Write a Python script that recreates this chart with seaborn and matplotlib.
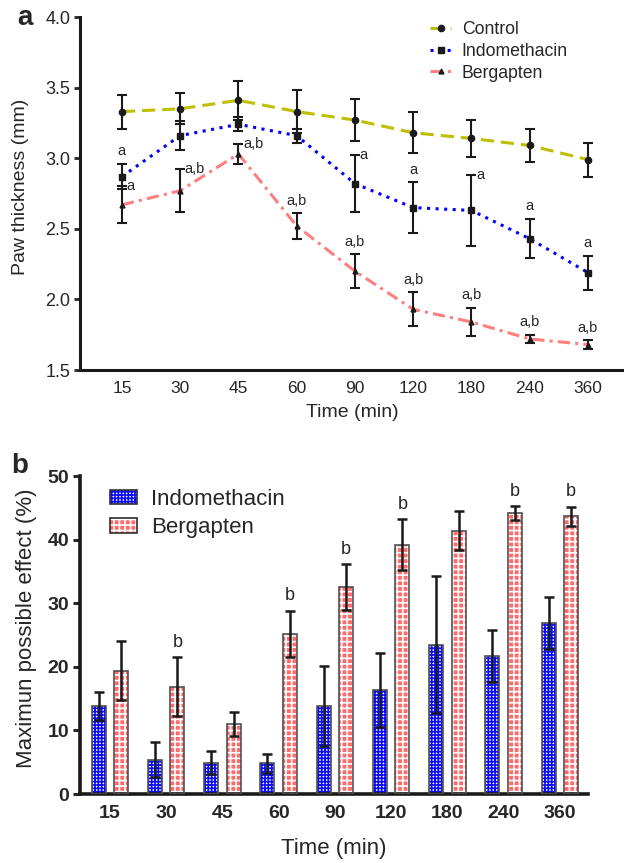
import numpy as np
import pandas as pd
import matplotlib.pyplot as plt
import seaborn as sns
from matplotlib.lines import Line2D
from matplotlib.patches import Patch, Rectangle

sns.set_theme(style='ticks')
plt.rcParams['font.family'] = ['Liberation Sans', 'DejaVu Sans']
plt.rcParams['hatch.linewidth'] = 1.2

# dados
times = ['15', '30', '45', '60', '90', '120', '180', '240', '360']

# painel a - espessura da pata (mm)
control = [3.33, 3.35, 3.41, 3.33, 3.27, 3.18, 3.14, 3.09, 2.99]
control_err = [0.12, 0.11, 0.14, 0.15, 0.15, 0.145, 0.13, 0.12, 0.12]
indo = [2.87, 3.16, 3.24, 3.16, 2.82, 2.65, 2.63, 2.43, 2.19]
indo_err = [0.09, 0.10, 0.05, 0.05, 0.20, 0.18, 0.25, 0.14, 0.12]
berg = [2.67, 2.77, 3.03, 2.52, 2.20, 1.93, 1.84, 1.72, 1.68]
berg_err = [0.13, 0.15, 0.07, 0.09, 0.12, 0.12, 0.10, 0.03, 0.03]
indo_sig = ['a', '', '', '', 'a', 'a', 'a', 'a', 'a']
berg_sig = ['a', 'a,b', 'a,b', 'a,b', 'a,b', 'a,b', 'a,b', 'a,b', 'a,b']
indo_side = ['top', '', '', '', 'right', 'top', 'right', 'top', 'top']
berg_side = ['right', 'right', 'right', 'top', 'top', 'top', 'top', 'top', 'top']

# painel b - efeito maximo possivel (%)
mpe_indo = [13.8, 5.4, 4.9, 4.8, 13.8, 16.4, 23.5, 21.7, 26.9]
mpe_indo_err = [2.2, 2.7, 1.8, 1.5, 6.3, 5.8, 10.7, 4.1, 4.1]
mpe_berg = [19.4, 16.9, 11.0, 25.2, 32.5, 39.2, 41.4, 44.2, 43.7]
mpe_berg_err = [4.6, 4.6, 1.9, 3.6, 3.6, 4.0, 3.1, 1.1, 1.5]
mpe_berg_sig = ['', 'b', '', 'b', 'b', 'b', '', 'b', 'b']

W, H = 624, 863
fig = plt.figure(figsize=(W / 100, H / 100), dpi=100)

# ---------------- painel a ----------------
ax1 = fig.add_axes([80 / W, 1 - 370 / H, (624 - 80) / W, (370 - 17) / H])
pos = np.arange(len(times))

series = [
    ('Control', control, control_err, '#bfbf00', (0, (4.3, 2.3)), 'o', 4.5),
    ('Indomethacin', indo, indo_err, '#0000ff', (0, (1, 1.8)), 's', 4.5),
    ('Bergapten', berg, berg_err, '#ff7f7f', (0, (4, 1.7, 1, 1.7)), '^', 3.5),
]
handles = []
for name, vals, err, col, ls, mk, ms in series:
    sns.lineplot(x=pos, y=vals, color=col, linestyle=ls, lw=2.2, ax=ax1)
    ax1.errorbar(pos, vals, yerr=err, fmt=mk, color='k', ms=ms,
                 elinewidth=1.5, capsize=3.5, capthick=1.5, zorder=3)
    handles.append(Line2D([], [], color=col, linestyle=ls, lw=2.2,
                          marker=mk, mfc='k', mec='k', ms=ms))

def annotate(ax, vals, err, labels, sides, dy, fs):
    for i, (lab, side) in enumerate(zip(labels, sides)):
        if not lab:
            continue
        top = vals[i] + err[i]
        if side == 'top':
            ax.text(i, top + dy, lab, ha='center', va='bottom', fontsize=fs)
        else:
            ax.text(i + 0.08, top, lab, ha='left', va='center', fontsize=fs)

annotate(ax1, indo, indo_err, indo_sig, indo_side, 0.04, 10.5)
annotate(ax1, berg, berg_err, berg_sig, berg_side, 0.04, 10.5)

ax1.set_xlim(-0.72, 8.62)
ax1.set_ylim(1.5, 4.0)
ax1.set_yticks([1.5, 2.0, 2.5, 3.0, 3.5, 4.0])
ax1.set_yticklabels(['1.5', '2.0', '2.5', '3.0', '3.5', '4.0'])
ax1.set_xticks(pos, times)
ax1.tick_params(axis='x', length=0, labelsize=12.5, pad=8)
ax1.tick_params(axis='y', length=4, width=2, labelsize=13, pad=3)
ax1.set_xlabel('Time (min)', fontsize=14)
ax1.set_ylabel('Paw thickness (mm)', fontsize=14)
ax1.xaxis.set_label_coords(0.5, (370 - 404) / 353)
ax1.yaxis.set_label_coords((29 - 80) / 544, 0.52)
for s in ['top', 'right']:
    ax1.spines[s].set_visible(False)
for s in ['left', 'bottom']:
    ax1.spines[s].set_linewidth(2.2)
    ax1.spines[s].set_color('k')
ax1.legend(handles, [s[0] for s in series], loc='upper left',
           bbox_to_anchor=((430 - 80) / 544, (370 - 21) / 353),
           frameon=False, fontsize=12.7, handlelength=1.2,
           handletextpad=0.6, labelspacing=0.27, borderpad=0,
           borderaxespad=0)

# ---------------- painel b ----------------
ax2 = fig.add_axes([80 / W, 1 - 794 / H, (588 - 80) / W, (794 - 476) / H])
df = pd.DataFrame({
    'time': times * 2,
    'value': mpe_indo + mpe_berg,
    'group': ['Indomethacin'] * len(times) + ['Bergapten'] * len(times),
})
sns.barplot(data=df, x='time', y='value', hue='group', order=times,
            hue_order=['Indomethacin', 'Bergapten'],
            palette=['#ffffff', '#ffffff'], gap=0.375, errorbar=None,
            saturation=1, legend=False, ax=ax2)

styles = [('#ffffff', '#0a0aff', '+++++'), ('#ff6a6a', '#ffffff', '+++')]
bar_x = []
for cont, (fc, hc, hatch) in zip(ax2.containers, styles):
    xs = []
    for bar in cont:
        bar.set_facecolor(fc)
        bar.set_edgecolor(hc)
        bar.set_hatch(hatch)
        bar.set_linewidth(0)
        ax2.add_patch(Rectangle(bar.get_xy(), bar.get_width(), bar.get_height(),
                                fill=False, edgecolor='#505050', lw=1.2, zorder=3))
        xs.append(bar.get_x() + bar.get_width() / 2)
    bar_x.append(xs)

ax2.errorbar(bar_x[0], mpe_indo, yerr=mpe_indo_err, fmt='none', ecolor='k',
             elinewidth=1.8, capsize=3.5, capthick=1.8, zorder=4)
ax2.errorbar(bar_x[1], mpe_berg, yerr=mpe_berg_err, fmt='none', ecolor='k',
             elinewidth=1.8, capsize=3.5, capthick=1.8, zorder=4)
for x, v, e, lab in zip(bar_x[1], mpe_berg, mpe_berg_err, mpe_berg_sig):
    if lab:
        ax2.text(x, v + e + 1.0, lab, ha='center', va='bottom', fontsize=13)

ax2.set_xlim(-0.53, 8.5)
ax2.set_ylim(0, 50)
ax2.set_yticks([0, 10, 20, 30, 40, 50])
ax2.tick_params(axis='x', length=0, labelsize=14, pad=8)
ax2.tick_params(axis='y', length=5, width=2.2, labelsize=14, pad=3)
for lbl in ax2.get_xticklabels() + ax2.get_yticklabels():
    lbl.set_fontweight('bold')
ax2.set_xlabel('Time (min)', fontsize=16)
ax2.set_ylabel('Maximun possible effect (%)', fontsize=16)
ax2.xaxis.set_label_coords(0.5, (794 - 838) / 318)
ax2.yaxis.set_label_coords((37 - 80) / 508, 0.52)
for s in ['top', 'right']:
    ax2.spines[s].set_visible(False)
for s in ['left', 'bottom']:
    ax2.spines[s].set_linewidth(2.6)
    ax2.spines[s].set_color('k')

leg_handles = []
for fc, hc, hatch in styles:
    leg_handles.append((Patch(facecolor=fc, edgecolor=hc, hatch=hatch, lw=0),
                        Patch(fill=False, edgecolor='#303030', lw=1.2)))
ax2.legend(leg_handles, ['Indomethacin', 'Bergapten'], loc='upper left',
           bbox_to_anchor=((110 - 80) / 508, (794 - 489) / 318),
           frameon=False, fontsize=16, handlelength=1.2, handleheight=0.62,
           handletextpad=0.66, labelspacing=0.33, borderpad=0, borderaxespad=0)

fig.text(25 / W, 1 - 18 / H, 'a', fontsize=20, fontweight='bold', ha='center', va='center')
fig.text(20 / W, 1 - 466 / H, 'b', fontsize=20, fontweight='bold', ha='center', va='center')

plt.savefig('out.png', dpi=100)
